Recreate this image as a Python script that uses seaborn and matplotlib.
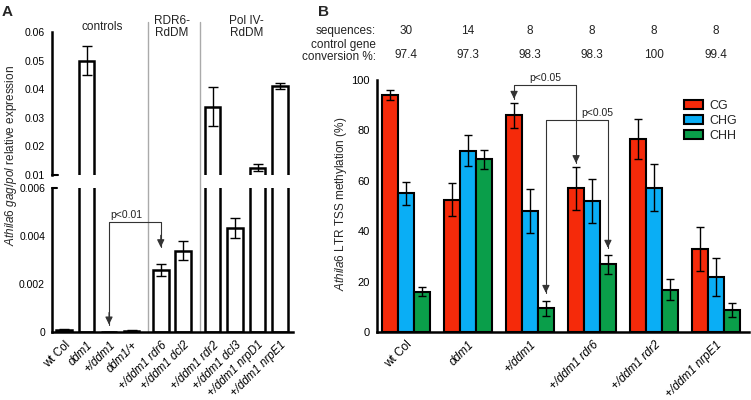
import numpy as np
import pandas as pd
import matplotlib
matplotlib.use("Agg")
import matplotlib.pyplot as plt
import seaborn as sns
from matplotlib.patches import Patch
from matplotlib.container import BarContainer

sns.set_style("white")
plt.rcParams['font.family'] = ['Liberation Sans', 'DejaVu Sans']
plt.rcParams['mathtext.fontset'] = 'custom'
plt.rcParams['mathtext.rm'] = 'Liberation Sans'
plt.rcParams['mathtext.it'] = 'Liberation Sans:italic'

# ---------------- Panel A data ----------------
a_labels = ["wt Col", "ddm1", "+/ddm1", "ddm1/+", "+/ddm1 rdr6", "+/ddm1 dcl2",
            "+/ddm1 rdr2", "+/ddm1 dcl3", "+/ddm1 nrpD1", "+/ddm1 nrpE1"]
a_groups = ["controls", "controls", "controls", "controls", "RDR6-\nRdDM", "RDR6-\nRdDM",
            "Pol IV-\nRdDM", "Pol IV-\nRdDM", "Pol IV-\nRdDM", "Pol IV-\nRdDM"]
a_values = [0.00010, 0.0500, 0.00001, 0.00005, 0.00258, 0.00338,
            0.0338, 0.00433, 0.0126, 0.0411]
a_errors = [0.00003, 0.0050, 0.000005, 0.00002, 0.00025, 0.00040,
            0.0068, 0.00042, 0.0011, 0.0012]

# ---------------- Panel B data ----------------
b_genotypes = ["wt Col", "ddm1", "+/ddm1", "+/ddm1 rdr6", "+/ddm1 rdr2", "+/ddm1 nrpE1"]
b_contexts = ["CG", "CHG", "CHH"]
b_CG = [94.0, 52.5, 86.0, 57.0, 76.6, 33.0]
b_CHG = [55.0, 72.0, 48.0, 52.0, 57.3, 21.8]
b_CHH = [16.0, 68.5, 9.5, 26.8, 16.8, 8.6]
b_CG_err = [2.0, 6.5, 5.0, 8.5, 8.0, 8.8]
b_CHG_err = [4.5, 6.0, 8.7, 8.6, 9.2, 7.6]
b_CHH_err = [1.8, 3.7, 3.0, 3.6, 4.2, 2.8]
b_sequences = ["30", "14", "8", "8", "8", "8"]
b_conversion = ["97.4", "97.3", "98.3", "98.3", "100", "99.4"]
palette = ["#F52A0A", "#0AAEF5", "#0A9E4A"]

W, H = 751, 400
fig = plt.figure(figsize=(W / 100, H / 100), dpi=100)


def fx(px):
    return px / W


def fy(py):
    return 1 - py / H


FS = 8
# ---------------- Panel A layout ----------------
group_gap = 0.3
pos = []
p = 0.0
for i, g in enumerate(a_groups):
    if i > 0:
        p += 1.0 + (group_gap if g != a_groups[i - 1] else 0.0)
    pos.append(round(p, 3))
pos = np.array(pos)
xpx0, xunit = 64, 22.5
xlim_a = ((52 - xpx0) / xunit, (293 - xpx0) / xunit)

axU = fig.add_axes([fx(52), fy(175), fx(293) - fx(52), fy(32) - fy(175)])
axL = fig.add_axes([fx(52), fy(332), fx(293) - fx(52), fy(188) - fy(332)])
dfA = pd.DataFrame({"pos": pos, "val": a_values})
for ax in (axU, axL):
    ax.set_facecolor("none")
    sns.barplot(data=dfA, x="pos", y="val", native_scale=True, width=0.7,
                color="white", edgecolor="black", linewidth=1.8, errorbar=None, ax=ax)
    ax.errorbar(pos, a_values, yerr=a_errors, fmt="none", ecolor="black",
                elinewidth=1.0, capsize=3.5, capthick=1.0, zorder=5)
    ax.set_xlim(*xlim_a)
    ax.set_xlabel("")
    ax.set_ylabel("")
    for s in ("top", "right"):
        ax.spines[s].set_visible(False)
    ax.spines["left"].set_linewidth(1.8)
    ax.spines["bottom"].set_linewidth(1.8)
    for s in ("left", "bottom"):
        ax.spines[s].set_color("black")
    ax.tick_params(axis="both", direction="out", length=4, width=1.5,
                   labelsize=FS - 0.5, colors="black", pad=1)

axU.set_ylim(0.01, 0.06)
axU.set_yticks([0.01, 0.02, 0.03, 0.04, 0.05, 0.06])
axU.set_yticklabels(["0.01", "0.02", "0.03", "0.04", "0.05", "0.06"])
axU.spines["bottom"].set_visible(False)
axU.set_xticks([])
axL.set_ylim(0, 0.006)
axL.set_yticks([0, 0.002, 0.004, 0.006])
axL.set_yticklabels(["0", "0.002", "0.004", "0.006"])
axL.set_xticks(pos)
axL.set_xticklabels(a_labels, rotation=45, ha="right", rotation_mode="anchor", fontsize=FS + 0.3)
for t in axL.get_xticklabels():
    if t.get_text() != "wt Col":
        t.set_fontstyle("italic")
# break marks
axU.plot([0, 0.025], [0, 0], transform=axU.transAxes, color="black", lw=1.5, clip_on=False)
axL.plot([0, 0.02], [1, 1], transform=axL.transAxes, color="black", lw=1.5, clip_on=False)

# group separators and group labels
uniq = []
for g in a_groups:
    if g not in uniq:
        uniq.append(g)
for k in range(1, len(uniq)):
    last = pos[[i for i, g in enumerate(a_groups) if g == uniq[k - 1]][-1]]
    first = pos[[i for i, g in enumerate(a_groups) if g == uniq[k]][0]]
    axL.axvline((last + first) / 2 + 0.08, ymin=0, ymax=(332 - 22) / (332 - 188),
                color="#AAAAAA", lw=1.0, clip_on=False, zorder=0)
for g in uniq:
    idx = [i for i, gg in enumerate(a_groups) if gg == g]
    cx = pos[idx].mean() + (0.2 if g == "controls" else 0.0)
    axU.text(cx, 0.0617, g, ha="center", va="center", fontsize=FS + 0.5,
             color="#222222", linespacing=1.0, clip_on=False)

# p<0.01 bracket
yb = 0.00458
i1, i2 = 2, 4
axL.plot([pos[i1], pos[i1], pos[i2], pos[i2]],
         [0.0003, yb, yb, a_values[i2] + a_errors[i2] + 0.0007], color="#333333", lw=0.8)
for i, tip in ((i1, a_values[i1] + 0.0003), (i2, a_values[i2] + a_errors[i2] + 0.0007)):
    axL.annotate("", xy=(pos[i], tip), xytext=(pos[i], tip + 0.0005),
                 arrowprops=dict(arrowstyle="-|>,head_length=0.45,head_width=0.22",
                                 color="#333333", lw=0.8, shrinkA=0, shrinkB=0))
axL.text(pos[i1] + 0.05, yb + 0.00008, "p<0.01", ha="left", va="bottom", fontsize=FS - 0.5,
         color="#222222")

fig.text(fx(11), fy(156), r"$\it{Athila6\ gag/pol}$ relative expression", rotation=90,
         ha="center", va="center", fontsize=FS + 0.5)
fig.text(fx(2), fy(12), "A", fontsize=11, fontweight="bold", ha="left", va="center")

# ---------------- Panel B ----------------
axB = fig.add_axes([fx(377), fy(332), fx(749) - fx(377), fy(80) - fy(332)])
axB.set_facecolor("none")
dfB = pd.DataFrame({
    "genotype": np.repeat(b_genotypes, 3),
    "context": b_contexts * len(b_genotypes),
    "value": np.ravel(np.column_stack([b_CG, b_CHG, b_CHH])),
})
sns.barplot(data=dfB, x="genotype", y="value", hue="context", hue_order=b_contexts,
            order=b_genotypes, palette=palette, width=0.77, edgecolor="black",
            linewidth=1.5, errorbar=None, saturation=1, legend=False, ax=axB)
errs = [b_CG_err, b_CHG_err, b_CHH_err]
bar_conts = [c for c in axB.containers if isinstance(c, BarContainer)]
centers = {}
for ci, cont in enumerate(bar_conts):
    xs = [r.get_x() + r.get_width() / 2 for r in cont.patches]
    hs = [r.get_height() for r in cont.patches]
    centers[b_contexts[ci]] = xs
    axB.errorbar(xs, hs, yerr=errs[ci], fmt="none", ecolor="black", elinewidth=1.0,
                 capsize=3.2, capthick=1.0, zorder=5)
axB.set_xlim((377 - 406) / 62, (749 - 406) / 62)
axB.set_ylim(0, 100)
axB.set_yticks([0, 20, 40, 60, 80, 100])
axB.set_xlabel("")
axB.set_ylabel("")
for s in ("top", "right"):
    axB.spines[s].set_visible(False)
for s in ("left", "bottom"):
    axB.spines[s].set_linewidth(1.8)
    axB.spines[s].set_color("black")
axB.tick_params(axis="both", direction="out", length=4, width=1.5, labelsize=FS,
                colors="black", pad=1)
axB.set_xticks(range(len(b_genotypes)))
axB.set_xticklabels(b_genotypes, rotation=45, ha="right", rotation_mode="anchor", fontsize=FS + 0.5)
for t in axB.get_xticklabels():
    if t.get_text() != "wt Col":
        t.set_fontstyle("italic")

# header rows
for gi in range(len(b_genotypes)):
    axB.text(gi, 119.5, b_sequences[gi], ha="center", va="center", fontsize=FS + 0.5,
             color="#222222", clip_on=False)
    axB.text(gi, 110.0, b_conversion[gi], ha="center", va="center", fontsize=FS + 0.5,
             color="#222222", clip_on=False)
fig.text(fx(376), fy(31), "sequences:", ha="right", va="center", fontsize=FS + 0.5, color="#222222")
fig.text(fx(376), fy(51), "control gene\nconversion %:", ha="right", va="center",
         multialignment="right", fontsize=FS + 0.5, color="#222222", linespacing=0.95)
fig.text(fx(318), fy(12), "B", fontsize=11, fontweight="bold", ha="left", va="center")
fig.text(fx(341), fy(204), r"$\it{Athila6}$ LTR TSS methylation (%)", rotation=90,
         ha="center", va="center", fontsize=FS + 0.5)


# brackets
def bracket(ax, x1, tip1, x2, tip2, ybar, label, lx):
    ax.plot([x1, x1, x2, x2], [tip1, ybar, ybar, tip2], color="#333333", lw=0.8, clip_on=False)
    for x, tip in ((x1, tip1), (x2, tip2)):
        ax.annotate("", xy=(x, tip), xytext=(x, tip + 2.5),
                    arrowprops=dict(arrowstyle="-|>,head_length=0.45,head_width=0.22",
                                    color="#333333", lw=0.8, shrinkA=0, shrinkB=0))
    ax.text(lx, ybar + 0.8, label, ha="left", va="bottom", fontsize=FS - 0.5, color="#222222")


g1, g2 = b_genotypes.index("+/ddm1"), b_genotypes.index("+/ddm1 rdr6")
bracket(axB, centers["CG"][g1], b_CG[g1] + b_CG_err[g1] + 1.5,
        centers["CG"][g2], b_CG[g2] + b_CG_err[g2] + 1.5, 98.0, "p<0.05",
        centers["CG"][g1] + 0.25)
bracket(axB, centers["CHH"][g1], b_CHH[g1] + b_CHH_err[g1] + 3.0,
        centers["CHH"][g2], b_CHH[g2] + b_CHH_err[g2] + 3.0, 84.0, "p<0.05",
        centers["CG"][g2] + 0.08)

handles = [Patch(facecolor=c, edgecolor="black", linewidth=1.5) for c in palette]
axB.legend(handles, b_contexts, loc="upper left", bbox_to_anchor=(fx(684), fy(100)),
           bbox_transform=fig.transFigure, frameon=False, fontsize=FS + 1,
           handlelength=1.5, handleheight=0.75, handletextpad=0.5, labelspacing=0.25,
           borderpad=0, borderaxespad=0)

fig.savefig("out.png", dpi=100)
